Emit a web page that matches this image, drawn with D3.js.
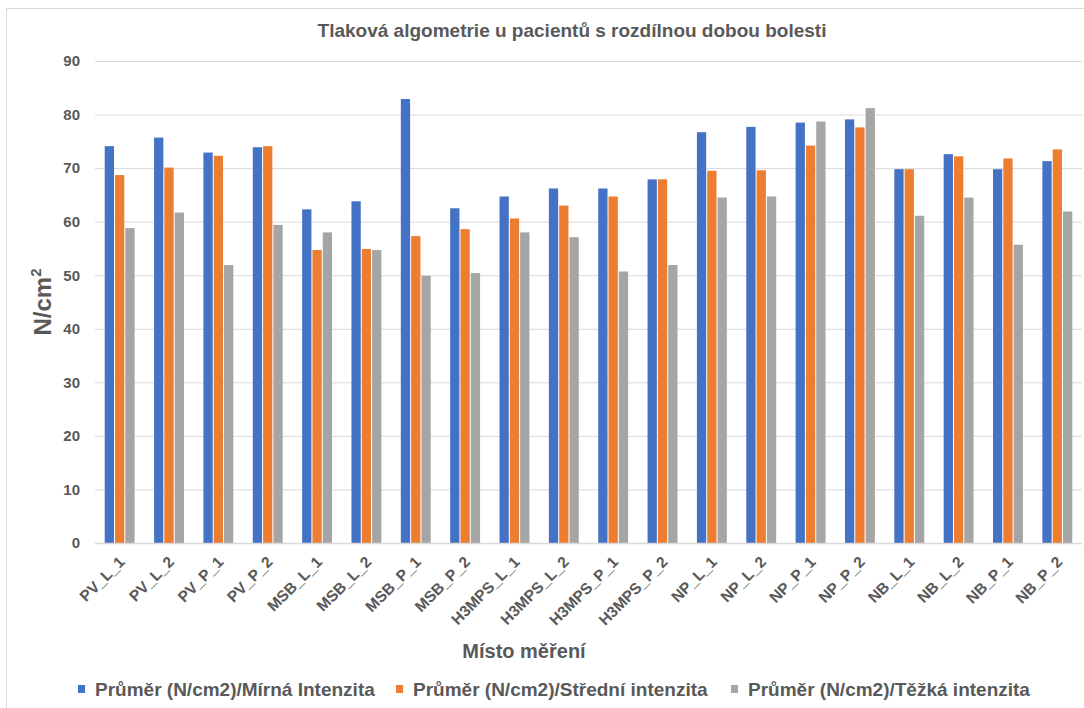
<!DOCTYPE html>
<html>
<head>
<meta charset="utf-8">
<script src="https://cdn.jsdelivr.net/npm/d3@7"></script>
<style>
  html, body { margin: 0; padding: 0; background: #fff; }
  text { font-family: "Liberation Sans", Arial, sans-serif; }
</style>
</head>
<body>
<svg id="chart" width="1084" height="708"></svg>
<script>
// Measurement sites
const categories = [
  "PV_L_1", "PV_L_2", "PV_P_1", "PV_P_2",
  "MSB_L_1", "MSB_L_2", "MSB_P_1", "MSB_P_2",
  "H3MPS_L_1", "H3MPS_L_2", "H3MPS_P_1", "H3MPS_P_2",
  "NP_L_1", "NP_L_2", "NP_P_1", "NP_P_2",
  "NB_L_1", "NB_L_2", "NB_P_1", "NB_P_2"
];

// Mean pressure thresholds (N/cm2) per pain intensity group
const mild = [74.1, 75.7, 72.9, 73.9, 62.3, 63.8, 82.9, 62.5, 64.7, 66.2, 66.2, 67.9, 76.7, 77.7, 78.5, 79.1, 69.8, 72.6, 69.8, 71.3];
const moderate = [68.7, 70.1, 72.3, 74.1, 54.7, 54.9, 57.3, 58.6, 60.6, 63.0, 64.7, 67.9, 69.5, 69.6, 74.2, 77.6, 69.8, 72.2, 71.8, 73.5];
const severe = [58.8, 61.7, 51.9, 59.4, 58.0, 54.7, 49.9, 50.4, 58.0, 57.1, 50.7, 51.9, 64.5, 64.7, 78.7, 81.2, 61.1, 64.5, 55.7, 61.9];

const seriesNames = [
  "Průměr (N/cm2)/Mírná Intenzita",
  "Průměr (N/cm2)/Střední intenzita",
  "Průměr (N/cm2)/Těžká intenzita"
];
const seriesColors = ["#4472C4", "#ED7D31", "#A5A5A5"];
const yTicks = [0, 10, 20, 30, 40, 50, 60, 70, 80, 90];

const chartTitle = "Tlaková algometrie u pacientů s rozdílnou dobou bolesti";
const xTitle = "Místo měření";

const series = [mild, moderate, severe];
const textColor = "#595959";
const gridColor = "#D9D9D9";

const svg = d3.select("#chart");

// outer chart frame
svg.append("rect")
  .attr("x", 6.5).attr("y", 8.5)
  .attr("width", 1090).attr("height", 720)
  .attr("fill", "#fff")
  .attr("stroke", gridColor)
  .attr("stroke-width", 1);

const plot = { left: 95, right: 1082, top: 61, bottom: 543 };

const x = d3.scaleBand()
  .domain(categories)
  .range([plot.left, plot.right])
  .paddingInner(0.65 / 1.65)
  .paddingOuter(0.65 / 1.65 / 2);

const xSub = d3.scaleBand()
  .domain(d3.range(series.length))
  .range([0, x.bandwidth()])
  .paddingInner(0.1);

const y = d3.scaleLinear()
  .domain([0, 90])
  .range([plot.bottom, plot.top]);

// gridlines + y tick labels
const yAxis = d3.axisLeft(y)
  .tickValues(yTicks)
  .tickSize(-(plot.right - plot.left))
  .tickPadding(15)
  .tickFormat(d3.format("d"));

const gy = svg.append("g")
  .attr("transform", `translate(${plot.left},0)`)
  .call(yAxis);
gy.select(".domain").remove();
gy.selectAll(".tick line")
  .attr("stroke", gridColor)
  .attr("stroke-width", 1);
gy.selectAll(".tick text")
  .attr("fill", textColor)
  .attr("font-size", 15)
  .attr("font-weight", "bold");

// bars
const groups = svg.append("g").selectAll("g")
  .data(categories)
  .join("g")
  .attr("transform", d => `translate(${x(d)},0)`);

groups.selectAll("rect")
  .data((d, i) => series.map((s, k) => ({ k, v: s[i] })))
  .join("rect")
  .attr("x", d => xSub(d.k))
  .attr("y", d => y(d.v))
  .attr("width", xSub.bandwidth())
  .attr("height", d => y(0) - y(d.v))
  .attr("fill", d => seriesColors[d.k]);

// category axis line
svg.append("line")
  .attr("x1", plot.left).attr("x2", plot.right)
  .attr("y1", y(0) + 0.5).attr("y2", y(0) + 0.5)
  .attr("stroke", gridColor)
  .attr("stroke-width", 1.5);

// x axis labels, rotated
const xAxis = d3.axisBottom(x).tickSize(0).tickPadding(0);
const gx = svg.append("g")
  .attr("transform", `translate(0,${plot.bottom})`)
  .call(xAxis);
gx.select(".domain").remove();
gx.selectAll(".tick text")
  .attr("fill", textColor)
  .attr("font-size", 15.5)
  .attr("font-weight", "bold")
  .attr("text-anchor", "end")
  .attr("dy", null)
  .attr("y", null)
  .attr("transform", "translate(6,20) rotate(-45)");

// chart title
svg.append("text")
  .attr("x", 572).attr("y", 37)
  .attr("text-anchor", "middle")
  .attr("fill", textColor)
  .attr("font-size", 19)
  .attr("font-weight", "bold")
  .text(chartTitle);

// y axis title with superscript
const yt = svg.append("text")
  .attr("transform", `translate(51,${(plot.top + plot.bottom) / 2}) rotate(-90)`)
  .attr("text-anchor", "middle")
  .attr("fill", textColor)
  .attr("font-size", 24)
  .attr("font-weight", "bold");
yt.append("tspan").text("N/cm");
yt.append("tspan").attr("font-size", 15).attr("dy", -10).text("2");

// x axis title
svg.append("text")
  .attr("x", 524).attr("y", 658)
  .attr("text-anchor", "middle")
  .attr("fill", textColor)
  .attr("font-size", 20)
  .attr("font-weight", "bold")
  .text(xTitle);

// legend
const legendX = [78, 396, 731];
const legend = svg.append("g").selectAll("g")
  .data(seriesNames)
  .join("g")
  .attr("transform", (d, i) => `translate(${legendX[i]},689)`);
legend.append("rect")
  .attr("x", 0).attr("y", -4)
  .attr("width", 7).attr("height", 8)
  .attr("fill", (d, i) => seriesColors[i]);
legend.append("text")
  .attr("x", 17).attr("y", 0)
  .attr("dy", "0.35em")
  .attr("fill", textColor)
  .attr("font-size", 19)
  .attr("font-weight", "bold")
  .text(d => d);
</script>
</body>
</html>
